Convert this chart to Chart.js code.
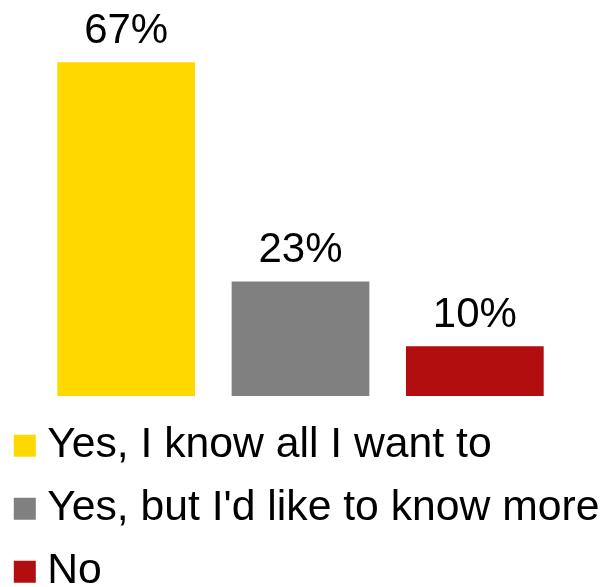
<!DOCTYPE html>
<html>
<head>
<meta charset="utf-8">
<script src="https://cdn.jsdelivr.net/npm/chart.js@4/dist/chart.umd.min.js"></script>
<style>
  html, body { margin: 0; padding: 0; background: #ffffff; overflow: hidden; }
  #wrap { position: relative; width: 601px; height: 587px; }
</style>
</head>
<body>
<div id="wrap"><canvas id="c"></canvas></div>
<script>
const categories = ["Yes, I know all I want to", "Yes, but I'd like to know more", "No"];
const values = [67, 23, 10];
const valueLabels = ["67%", "23%", "10%"];
const colors = ["#FFD800", "#808080", "#B20E10"];

const FONT = '"Liberation Sans", Arial, Helvetica, sans-serif';

const valueLabelPlugin = {
  id: 'valueLabels',
  afterDatasetsDraw(chart) {
    const ctx = chart.ctx;
    const meta = chart.getDatasetMeta(0);
    ctx.save();
    ctx.font = '42px ' + FONT;
    ctx.fillStyle = '#000000';
    ctx.textAlign = 'center';
    ctx.textBaseline = 'alphabetic';
    meta.data.forEach((bar, i) => {
      ctx.fillText(valueLabels[i], bar.x, bar.y - 19);
    });
    ctx.restore();
  }
};

new Chart(document.getElementById('c'), {
  type: 'bar',
  data: {
    labels: categories,
    datasets: [{
      data: values,
      backgroundColor: colors,
      borderWidth: 0,
      categoryPercentage: 1,
      barPercentage: 0.79
    }]
  },
  options: {
    responsive: true,
    maintainAspectRatio: false,
    animation: false,
    layout: { padding: { left: 3.5, right: 0, top: 0, bottom: -16 } },
    scales: {
      x: {
        display: true,
        grid: { display: false },
        border: { display: false },
        ticks: { display: false },
        afterFit(s) { s.height = 8; }
      },
      y: {
        type: 'linear',
        min: 0,
        max: 79.5,
        display: true,
        grid: { display: false },
        border: { display: false },
        ticks: { display: false },
        afterFit(s) { s.width = 35.5; }
      },
      yR: {
        type: 'linear',
        position: 'right',
        display: true,
        grid: { display: false },
        border: { display: false },
        ticks: { display: false },
        afterFit(s) { s.width = 39; }
      }
    },
    plugins: {
      tooltip: { enabled: false },
      legend: {
        display: true,
        position: 'bottom',
        align: 'start',
        labels: {
          usePointStyle: true,
          boxWidth: 2,
          boxHeight: 22,
          padding: 20.3,
          color: '#000000',
          font: { family: FONT, size: 42.7 },
          generateLabels() {
            return categories.map((c, i) => ({
              text: c,
              fillStyle: colors[i],
              strokeStyle: colors[i],
              lineWidth: 0,
              pointStyle: 'rect',
              hidden: false,
              index: i
            }));
          }
        }
      }
    }
  },
  plugins: [valueLabelPlugin]
});
</script>
</body>
</html>
